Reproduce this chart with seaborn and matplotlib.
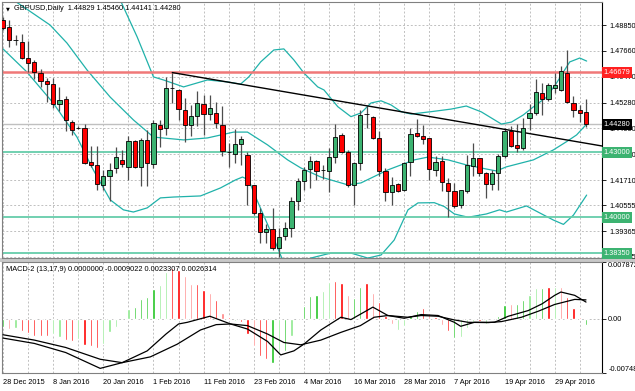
import numpy as np
import matplotlib
matplotlib.use("Agg")
import matplotlib.pyplot as plt
import matplotlib.transforms as mtransforms
import seaborn as sns

sns.set_style("white")
plt.rcParams["font.family"] = ["Liberation Sans", "DejaVu Sans"]

# ─────────────────────────────────────────
# DATA (GBPUSD daily)
# ─────────────────────────────────────────

opens = [1.4908, 1.4876, 1.4816, 1.4808, 1.4733, 1.4715, 1.4664, 1.4627, 1.4613, 1.4521,
         1.4545, 1.4440, 1.4411, 1.4411, 1.4252, 1.4241, 1.4149, 1.4188, 1.4227, 1.4264,
         1.4233, 1.4349, 1.4233, 1.4356, 1.4246, 1.4425, 1.4411, 1.4594, 1.4586, 1.4494,
         1.4425, 1.4466, 1.4520, 1.4476, 1.4482, 1.4425, 1.4300, 1.4291, 1.4338, 1.4287,
         1.4149, 1.4020, 1.3934, 1.3948, 1.3858, 1.3915, 1.3949, 1.4076, 1.4169, 1.4221,
         1.4261, 1.4216, 1.4215, 1.4279, 1.4379, 1.4300, 1.4149, 1.4249, 1.4476, 1.4463,
         1.4367, 1.4214, 1.4115, 1.4153, 1.4126, 1.4256, 1.4387, 1.4376, 1.4365, 1.4218,
         1.4261, 1.4156, 1.4119, 1.4057, 1.4119, 1.4234, 1.4271, 1.4204, 1.4155, 1.4204,
         1.4280, 1.4395, 1.4333, 1.4318, 1.4456, 1.4479, 1.4574, 1.4543, 1.4594, 1.4586,
         1.4664, 1.4528, 1.4494, 1.4483]
highs = [1.4922, 1.4908, 1.4839, 1.4843, 1.4811, 1.4724, 1.4682, 1.4641, 1.4643, 1.4601,
         1.4558, 1.4448, 1.4418, 1.4430, 1.4330, 1.4330, 1.4218, 1.4250, 1.4324, 1.4310,
         1.4372, 1.4356, 1.4365, 1.4402, 1.4448, 1.4448, 1.4647, 1.4665, 1.4590, 1.4548,
         1.4517, 1.4579, 1.4563, 1.4563, 1.4532, 1.4512, 1.4341, 1.4405, 1.4372, 1.4302,
         1.4149, 1.4043, 1.3969, 1.4043, 1.3949, 1.3979, 1.4094, 1.4180, 1.4233, 1.4280,
         1.4264, 1.4241, 1.4318, 1.4431, 1.4389, 1.4310, 1.4256, 1.4494, 1.4510, 1.4466,
         1.4395, 1.4226, 1.4185, 1.4159, 1.4256, 1.4411, 1.4453, 1.4425, 1.4365, 1.4280,
         1.4280, 1.4180, 1.4156, 1.4126, 1.4287, 1.4341, 1.4273, 1.4207, 1.4218, 1.4292,
         1.4411, 1.4418, 1.4430, 1.4457, 1.4522, 1.4636, 1.4620, 1.4620, 1.4666, 1.4694,
         1.4770, 1.4556, 1.4517, 1.4546]
lows = [1.4862, 1.4784, 1.4793, 1.4729, 1.4670, 1.4637, 1.4600, 1.4532, 1.4503, 1.4489,
        1.4397, 1.4379, 1.4405, 1.4245, 1.4233, 1.4126, 1.4124, 1.4076, 1.4204, 1.4233,
        1.4172, 1.4228, 1.4145, 1.4145, 1.4227, 1.4325, 1.4379, 1.4528, 1.4448, 1.4348,
        1.4372, 1.4419, 1.4379, 1.4448, 1.4411, 1.4280, 1.4233, 1.4251, 1.4241, 1.4057,
        1.4012, 1.3881, 1.3881, 1.3850, 1.3818, 1.3895, 1.3911, 1.4034, 1.4126, 1.4134,
        1.4172, 1.4175, 1.4118, 1.4249, 1.4294, 1.4141, 1.4055, 1.4218, 1.4411, 1.4362,
        1.4188, 1.4073, 1.4057, 1.4115, 1.4119, 1.4190, 1.4371, 1.4338, 1.4170, 1.4188,
        1.4119, 1.4000, 1.4043, 1.4043, 1.4112, 1.4188, 1.4188, 1.4089, 1.4126, 1.4126,
        1.4273, 1.4323, 1.4300, 1.4310, 1.4402, 1.4471, 1.4471, 1.4536, 1.4571, 1.4579,
        1.4528, 1.4460, 1.4440, 1.4414]
closes = [1.4872, 1.4816, 1.4816, 1.4735, 1.4710, 1.4670, 1.4629, 1.4613, 1.4521, 1.4540,
          1.4448, 1.4402, 1.4411, 1.4250, 1.4240, 1.4153, 1.4190, 1.4218, 1.4278, 1.4245,
          1.4349, 1.4233, 1.4356, 1.4250, 1.4434, 1.4407, 1.4597, 1.4594, 1.4497, 1.4425,
          1.4466, 1.4525, 1.4476, 1.4505, 1.4433, 1.4303, 1.4300, 1.4336, 1.4359, 1.4149,
          1.4020, 1.3934, 1.3947, 1.3860, 1.3910, 1.3949, 1.4076, 1.4169, 1.4218, 1.4261,
          1.4215, 1.4216, 1.4279, 1.4368, 1.4300, 1.4149, 1.4249, 1.4471, 1.4476, 1.4367,
          1.4211, 1.4115, 1.4149, 1.4119, 1.4249, 1.4383, 1.4376, 1.4359, 1.4221, 1.4256,
          1.4160, 1.4119, 1.4052, 1.4126, 1.4241, 1.4273, 1.4204, 1.4155, 1.4204, 1.4280,
          1.4399, 1.4326, 1.4318, 1.4411, 1.4479, 1.4578, 1.4543, 1.4609, 1.4609, 1.4671,
          1.4532, 1.4494, 1.4482, 1.4428]

date_labels = ["28 Dec 2015", "8 Jan 2016", "20 Jan 2016", "1 Feb 2016", "11 Feb 2016",
               "23 Feb 2016", "4 Mar 2016", "16 Mar 2016", "28 Mar 2016", "7 Apr 2016",
               "19 Apr 2016", "29 Apr 2016"]
date_bars = [0, 8, 16, 24, 32, 40, 48, 56, 64, 72, 80, 88]

# Bollinger bands (bar position, price)
bb_up_x = [17.0, 18.7, 21.4, 24.0, 25.6, 28.8, 32.6, 35.8, 37.9, 39.2, 41.1, 43.2, 44.8, 46.4,
           48.0, 50.2, 51.2, 53.4, 55.5, 57.1, 58.7, 60.3, 61.9, 63.5, 65.1, 68.3, 71.5,
           73.9, 76.3, 79.5, 81.1, 83.0, 84.6, 86.7, 88.3, 89.4, 90.4, 92.0, 93.1]
bb_up_y = [1.5080, 1.5000, 1.4830, 1.4646, 1.4632, 1.4600, 1.4632, 1.4623, 1.4613, 1.4646,
           1.4715, 1.4770, 1.4775, 1.4724, 1.4664, 1.4600, 1.4586, 1.4509, 1.4463, 1.4480,
           1.4526, 1.4536, 1.4517, 1.4486, 1.4475, 1.4486, 1.4498, 1.4512, 1.4485, 1.4429,
           1.4438, 1.4471, 1.4508, 1.4553, 1.4618, 1.4669, 1.4715, 1.4733, 1.4719]
bb_mid_x = [0.0, 4.0, 7.5, 10.2, 13.4, 17.1, 20.8, 24.0, 28.8, 32.6, 36.8, 39.0, 42.2, 45.4,
            47.5, 50.7, 55.0, 57.1, 61.4, 65.6, 67.8, 71.0, 73.9, 77.1, 78.7, 80.3, 84.6,
            87.8, 89.9, 91.5, 93.1]
bb_mid_y = [1.5032, 1.4954, 1.4885, 1.4802, 1.4678, 1.4553, 1.4448, 1.4369, 1.4356, 1.4365,
            1.4392, 1.4392, 1.4333, 1.4264, 1.4227, 1.4185, 1.4149, 1.4158, 1.4218, 1.4264,
            1.4277, 1.4264, 1.4241, 1.4222, 1.4213, 1.4232, 1.4264, 1.4310, 1.4348, 1.4379,
            1.4429]
bb_low_x = [0.0, 3.8, 8.0, 11.8, 14.4, 17.1, 19.2, 20.8, 23.0, 25.1, 27.2, 31.5, 34.7, 37.1,
            38.2, 39.2, 40.3, 41.9, 43.5, 44.6, 46.0, 48.0, 49.1, 52.3, 55.5, 58.2, 60.3,
            62.4, 64.6, 66.2, 68.8, 70.4, 72.0, 74.2, 77.1, 79.2, 80.3, 83.5, 85.6, 87.8,
            89.4, 91.0, 93.1]
bb_low_y = [1.4775, 1.4669, 1.4526, 1.4369, 1.4218, 1.4080, 1.4034, 1.4024, 1.4043, 1.4089,
            1.4093, 1.4098, 1.4135, 1.4172, 1.4185, 1.4172, 1.4093, 1.3987, 1.3881, 1.3803,
            1.3760, 1.3790, 1.3812, 1.3835, 1.3835, 1.3812, 1.3826, 1.3895, 1.4034, 1.4066,
            1.4067, 1.4049, 1.4015, 1.4000, 1.4015, 1.4034, 1.4024, 1.4052, 1.4020, 1.3987,
            1.3967, 1.4010, 1.4102]

trend_x = [27, 95.55]
trend_y = [1.4666, 1.4328]
resistance = 1.46679
supports = [1.43000, 1.40000, 1.38350]
last_price = 1.44280
price_ticks = [1.48850, 1.47660, 1.46470, 1.45280, 1.44090, 1.42900, 1.41710,
               1.40555, 1.39365, 1.38175]

# MACD-2 (13,17,9)
hist = [-0.00116, -0.00140, -0.00126, -0.00172, -0.00200, -0.00233, -0.00242, -0.00233,
        -0.00209, -0.00256, -0.00293, -0.00312, -0.00279, -0.00358, -0.00372, -0.00405,
        -0.00349, -0.00186, -0.00107, 0.0, 0.00140, 0.00163, 0.00279, 0.00302, 0.00419,
        0.00474, 0.00642, 0.00698, 0.00674, 0.00591, 0.00488, 0.00479, 0.00405, 0.00358,
        0.00256, 0.00079, 0.00033, -0.00023, -0.00047, -0.00209, -0.00372, -0.00512,
        -0.00558, -0.00605, -0.00488, -0.00442, -0.00233, 0.0, 0.00172, 0.00312, 0.00326,
        0.00386, 0.00512, 0.00525, 0.00498, 0.00326, 0.00288, 0.00442, 0.00498, 0.00358,
        0.00233, 0.00047, -0.00070, -0.00153, -0.00093, 0.00047, 0.00116, 0.00149, 0.00079,
        0.00033, -0.00079, -0.00172, -0.00265, -0.00246, -0.00126, -0.00047, -0.00023,
        -0.00070, -0.00014, 0.00047, 0.00186, 0.00200, 0.00200, 0.00256, 0.00335, 0.00428,
        0.00428, 0.00442, 0.00442, 0.00442, 0.00302, 0.00149, 0.00033, -0.00090]
hist_kind = list("GrgRRRRRggRRgRRRgggggGGGGggRRrrRRrRrRgRRrRRGgGggGGGggRRrGGRrRRrggGGRrRrRGgggRggGGrGGggGRgrRRr")

macd_x = [0, 5, 10, 15.5, 19, 23, 26, 28, 29.4, 33, 36.3, 39, 42.2, 44.3, 46.4, 48, 50.7,
          53.9, 55.5, 59, 61.4, 64, 66.7, 69.4, 72, 73, 75.2, 78.4, 80.6, 83.8, 86, 88, 89,
          91.2, 93]
macd_y = [-0.00265, -0.00339, -0.00465, -0.00684, -0.00605, -0.00442, -0.00209, -0.00070,
          -0.00047, 0.00037, -0.00070, -0.00140, -0.00312, -0.00498, -0.00442, -0.00349,
          -0.00153, 0.00023, -0.00009, 0.00163, 0.00047, 0.00009, 0.00060, 0.00047, -0.00047,
          -0.00102, -0.00047, -0.00047, 0.00037, 0.00116, 0.00209, 0.00326, 0.00372, 0.00326,
          0.00233]
signal_x = [0, 5, 10, 15.5, 19, 23.5, 27.8, 31.5, 34, 36.3, 39, 42.2, 44.8, 47.5, 50.7, 53.9,
            57, 59.2, 61.4, 64.6, 66.7, 69.4, 72, 74.2, 77.4, 79.5, 82.7, 85.4, 88, 91.2, 93]
signal_y = [-0.00219, -0.00293, -0.00395, -0.00558, -0.00605, -0.00525, -0.00349, -0.00153,
            -0.00079, -0.00070, -0.00093, -0.00209, -0.00326, -0.00358, -0.00293, -0.00186,
            -0.00093, 0.00023, 0.00047, 0.00023, 0.00047, 0.00037, -0.00014, -0.00047,
            -0.00051, -0.00037, 0.00023, 0.00107, 0.00200, 0.00270, 0.00263]
macd_top, macd_bottom = 0.007872, -0.007480

# ─────────────────────────────────────────
# STYLE
# ─────────────────────────────────────────

BULL = "#3CB371"
BEAR = "#FF0000"
BAND = "#20B2AA"
LEVEL = "#66CDAA"
GRID = "#C0C0C0"
HIST_COLORS = {"G": "#22C422", "g": "#8CE88C", "R": "#FF0000", "r": "#FF8080"}
FS = 5.3

W, H = 635, 391
fig = plt.figure(figsize=(W / 100, H / 100), dpi=100)
fig.patch.set_facecolor("white")


def px_rect(left, top, right, bottom):
    return [left / W, 1 - bottom / H, (right - left) / W, (bottom - top) / H]


ax = fig.add_axes(px_rect(1.7, 1.7, 602, 257.5))
ax2 = fig.add_axes(px_rect(1.7, 262, 602, 373))
# separator between the panels
fig.patches.append(plt.Rectangle((0, 1 - 261.5 / H), 1, 3.5 / H, transform=fig.transFigure,
                                 facecolor="#C8C8C8", edgecolor="none", zorder=-1))

bars = np.arange(len(opens))
xlim = (-0.21, 95.55)

# ─────────────────────────────────────────
# PRICE PANEL
# ─────────────────────────────────────────

o, h, l, c = map(np.array, (opens, highs, lows, closes))
ax.vlines(bars, l, h, color="#4D4D4D", linewidth=0.9, zorder=3)
ax.bar(bars, np.abs(c - o), bottom=np.minimum(o, c), width=0.68,
       color=[BULL if cc >= oo else BEAR for oo, cc in zip(o, c)],
       edgecolor="black", linewidth=0.6, zorder=4)

for bx, by in [(bb_up_x, bb_up_y), (bb_mid_x, bb_mid_y), (bb_low_x, bb_low_y)]:
    sns.lineplot(x=bx, y=by, ax=ax, color=BAND, linewidth=0.9, sort=False,
                 estimator=None, legend=False, zorder=2)

ax.axhline(resistance, color="#F07878", linewidth=1.8, zorder=2)
for s in supports:
    ax.axhline(s, color=LEVEL, linewidth=1.3, zorder=2)
ax.axhline(last_price, color="#C0C0C0", linewidth=1.0, zorder=1.5)
sns.lineplot(x=trend_x, y=trend_y, ax=ax, color="black", linewidth=1.0, sort=False,
             estimator=None, legend=False, zorder=3)

ax.set_xlim(*xlim)
ax.set_ylim(1.38146, 1.49923)
ax.set_xticks(np.arange(0, 96, 4))
ax.set_xticklabels([])
ax.tick_params(axis="x", length=0)
ax.yaxis.tick_right()
ax.set_yticks(price_ticks)
ax.set_yticklabels([f"{v:.5f}" for v in price_ticks])
ax.tick_params(axis="y", direction="out", length=3, width=0.6, pad=2,
               labelsize=FS, colors="black")
ax.grid(True, linestyle=(0, (2, 2)), color=GRID, linewidth=0.7)
ax.set_axisbelow(True)
ax.set_xlabel("")
ax.set_ylabel("")

# price boxes on the right scale
trans = mtransforms.blended_transform_factory(ax.transAxes, ax.transData)
boxes = [(resistance, "#FF2020")] + [(s, BULL) for s in supports] + [(last_price, "black")]
for val, col in boxes:
    ax.text(1.0027, val, f"{val:.5f}", transform=trans, ha="left", va="center",
            fontsize=FS, color="white", clip_on=False, zorder=20,
            bbox=dict(boxstyle="square,pad=0.28", fc=col, ec="none"))

ax.text(0.011, 0.972, "\u25BC", transform=ax.transAxes, fontsize=3.6, va="center",
        ha="center", color="black", family=["DejaVu Sans"])
ax.text(0.0205, 0.972, "GBPUSD,Daily  1.44829 1.45460 1.44141 1.44280",
        transform=ax.transAxes, fontsize=FS, va="center", ha="left", color="black")

for side in ["left", "top", "bottom"]:
    ax.spines[side].set_color("#808080")
    ax.spines[side].set_linewidth(0.8)
ax.spines["right"].set_color("black")
ax.spines["right"].set_linewidth(0.8)

# ─────────────────────────────────────────
# MACD PANEL
# ─────────────────────────────────────────

ax2.bar(bars, hist, width=0.36, color=[HIST_COLORS[k] for k in hist_kind], zorder=2)
sns.lineplot(x=signal_x, y=signal_y, ax=ax2, color="black", linewidth=0.9, sort=False,
             estimator=None, legend=False, zorder=3)
sns.lineplot(x=macd_x, y=macd_y, ax=ax2, color="black", linewidth=0.9, sort=False,
             estimator=None, legend=False, zorder=3)

ax2.set_xlim(*xlim)
ax2.set_ylim(macd_bottom, macd_top)
ax2.set_xticks(date_bars)
ax2.set_xticklabels(date_labels, ha="left")
ax2.set_xticks(np.arange(0, 96, 4), minor=True)
ax2.tick_params(axis="x", which="major", direction="out", length=3, width=0.6, pad=1.5,
                labelsize=FS, colors="black")
ax2.tick_params(axis="x", which="minor", length=0)
ax2.yaxis.tick_right()
ax2.set_yticks([macd_bottom, 0.0, macd_top])
ax2.set_yticklabels(["-0.007480", "0.00", "0.007872"])
ax2.tick_params(axis="y", direction="out", length=3, width=0.6, pad=1.5,
                labelsize=FS, colors="black")
ylabels = ax2.get_yticklabels()
ylabels[0].set_va("bottom")
ylabels[2].set_va("top")
ax2.grid(True, which="both", linestyle=(0, (2, 2)), color=GRID, linewidth=0.7)
ax2.set_axisbelow(True)
ax2.set_xlabel("")
ax2.set_ylabel("")
ax2.text(0.0072, 0.935,
         "MACD-2 (13,17,9) 0.0000000 -0.0009022 0.0023307 0.0026314",
         transform=ax2.transAxes, fontsize=FS, va="center", ha="left", color="black")

for side in ["left", "top", "bottom"]:
    ax2.spines[side].set_color("#808080")
    ax2.spines[side].set_linewidth(0.8)
ax2.spines["right"].set_color("black")
ax2.spines["right"].set_linewidth(0.8)

fig.savefig("out.png", dpi=100, facecolor="white")
plt.close(fig)
